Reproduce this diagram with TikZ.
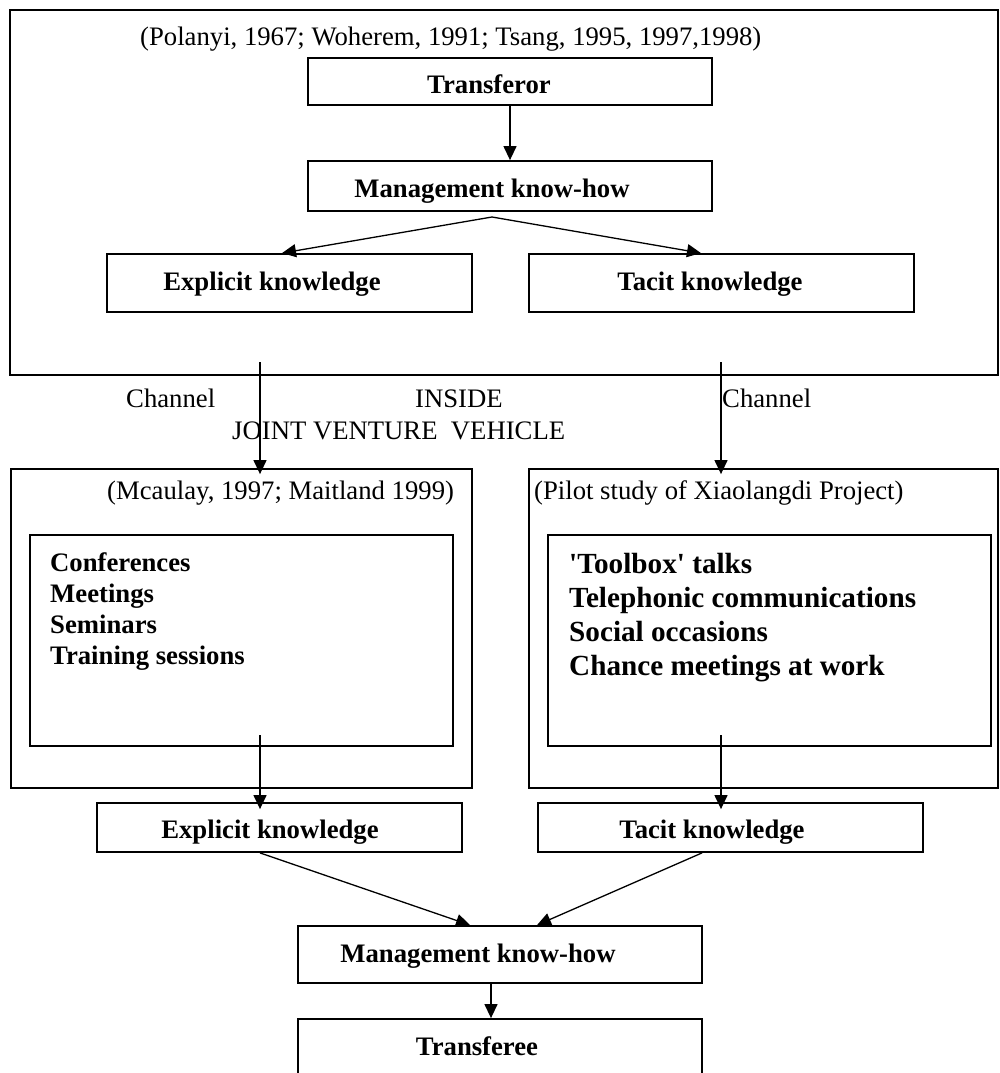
\documentclass[tikz,border=0pt]{standalone}
\usepackage{fontspec}
\setmainfont{Liberation Serif}
\usetikzlibrary{arrows.meta}
\begin{document}
\begin{tikzpicture}[x=1pt,y=-1pt,
  box/.style={draw,line width=1.8pt,inner sep=0pt},
  arr/.style={-{Triangle[length=14pt,width=13pt]},line width=1.3pt},
  txt/.style={inner sep=0pt,font=\fontsize{26.7}{31}\selectfont},
  btxt/.style={inner sep=0pt,font=\fontsize{26.7}{31}\selectfont\bfseries},
  bigtxt/.style={inner sep=0pt,font=\fontsize{29.2}{34}\selectfont\bfseries}]
\useasboundingbox (0,0) rectangle (999,1073);

% boxes
\node[box,minimum width=988pt,minimum height=365pt] (topouter) at (504,192.5) {};
\node[box,minimum width=404pt,minimum height=47pt] (transferor) at (510,81.5) {};
\node[box,minimum width=404pt,minimum height=50pt] (mgmt1) at (510,186) {};
\node[box,minimum width=365pt,minimum height=58pt] (exp1) at (289.5,283) {};
\node[box,minimum width=385pt,minimum height=58pt] (tac1) at (721.5,283) {};
\node[box,minimum width=461pt,minimum height=319pt] (louter) at (241.5,628.5) {};
\node[box,minimum width=469pt,minimum height=319pt] (router) at (763.5,628.5) {};
\node[box,minimum width=423pt,minimum height=211pt] (linner) at (241.5,640.5) {};
\node[box,minimum width=443pt,minimum height=211pt] (rinner) at (769.5,640.5) {};
\node[box,minimum width=365pt,minimum height=49pt] (exp2) at (279.5,827.5) {};
\node[box,minimum width=385pt,minimum height=49pt] (tac2) at (730.5,827.5) {};
\node[box,minimum width=404pt,minimum height=57pt] (mgmt2) at (500,954.5) {};
\node[box,minimum width=404pt,minimum height=71pt] (transferee) at (500,1054.5) {};

% texts
\node[txt,anchor=base west] (cite1) at (140,46) {(Polanyi, 1967; Woherem, 1991; Tsang, 1995, 1997,1998)};
\node[btxt,anchor=base] (transferorT) at (489,93) {Transferor};
\node[btxt,anchor=base] (mgmt1T) at (492,197) {Management know-how};
\node[btxt,anchor=base] (exp1T) at (272,290) {Explicit knowledge};
\node[btxt,anchor=base] (tac1T) at (710,290) {Tacit knowledge};
\node[txt,anchor=base west] (chan1) at (126,407) {Channel};
\node[txt,anchor=base west] (inside) at (415,407) {INSIDE};
\node[txt,anchor=base west] (jv) at (232,439) {JOINT VENTURE\ \ VEHICLE};
\node[txt,anchor=base west] (chan2) at (722,407) {Channel};
\node[txt,anchor=base west] (cite2) at (107,499) {(Mcaulay, 1997; Maitland 1999)};
\node[txt,anchor=base west] (cite3) at (534,499) {(Pilot study of Xiaolangdi Project)};
\node[btxt,anchor=base west] (l1) at (50,571) {Conferences};
\node[btxt,anchor=base west] (l2) at (50,602) {Meetings};
\node[btxt,anchor=base west] (l3) at (50,633) {Seminars};
\node[btxt,anchor=base west] (l4) at (50,664) {Training sessions};
\node[bigtxt,anchor=base west] (r1) at (569,573) {\textquotesingle Toolbox\textquotesingle{} talks};
\node[bigtxt,anchor=base west] (r2) at (569,607) {Telephonic communications};
\node[bigtxt,anchor=base west] (r3) at (569,641) {Social occasions};
\node[bigtxt,anchor=base west] (r4) at (569,675) {Chance meetings at work};
\node[btxt,anchor=base] (exp2T) at (270,838) {Explicit knowledge};
\node[btxt,anchor=base] (tac2T) at (712,838) {Tacit knowledge};
\node[btxt,anchor=base] (mgmt2T) at (478,962) {Management know-how};
\node[btxt,anchor=base] (transfereeT) at (477,1055) {Transferee};

% connectors
\coordinate (apex) at (492,217);
\coordinate (ch1) at (260,362);
\coordinate (ch2) at (721,362);
\coordinate (d1) at (260,735);
\coordinate (d2) at (721,735);
\draw[arr] (transferor.south) -- (mgmt1.north);
\draw[arr] (apex) -- ([xshift=-7.5pt]exp1.north);
\draw[arr] (apex) -- ([xshift=-20.5pt]tac1.north);
\draw[arr] (ch1) -- ([xshift=18.5pt,yshift=-6pt]louter.north);
\draw[arr] (ch2) -- ([xshift=-42.5pt,yshift=-6pt]router.north);
\draw[arr] (d1) -- ([xshift=-19.5pt,yshift=-7pt]exp2.north);
\draw[arr] (d2) -- ([xshift=-9.5pt,yshift=-7pt]tac2.north);
\draw[arr] ([xshift=-19.5pt]exp2.south) -- ([xshift=-30pt]mgmt2.north);
\draw[arr] ([xshift=-28.5pt]tac2.south) -- ([xshift=37pt]mgmt2.north);
\draw[arr] ([xshift=-9pt]mgmt2.south) -- ([xshift=-9pt]transferee.north);
\end{tikzpicture}
\end{document}
